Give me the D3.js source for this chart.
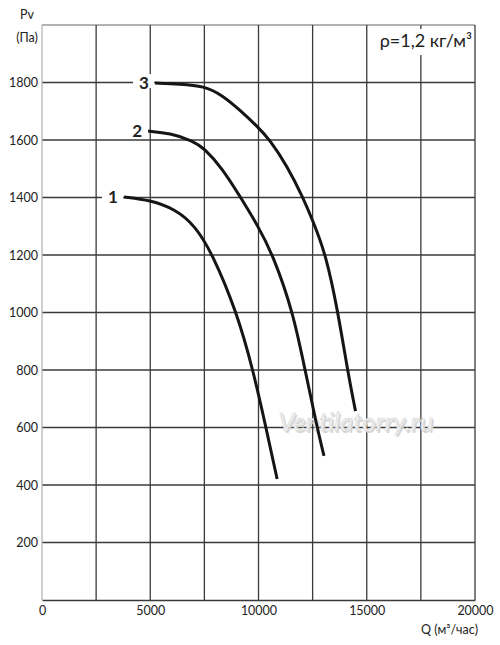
<!DOCTYPE html>
<html><head><meta charset="utf-8">
<script src="https://cdn.jsdelivr.net/npm/d3@7"></script>
<style>body{margin:0;background:#fff}svg{display:block}text{font-family:Lato,"Open Sans",sans-serif;fill:#222}</style>
</head><body>
<svg id="c" width="500" height="645"></svg>
<script>
const xTicks = [0, 5000, 10000, 15000, 20000];
const xGrid = [2500, 5000, 7500, 10000, 12500, 15000, 17500, 20000];
const yTicks = [200, 400, 600, 800, 1000, 1200, 1400, 1600, 1800];
const curveNames = ["1", "2", "3"];
const curve1Q = [3790, 4990, 6140, 7070, 7900, 8990, 9750, 10350, 10860];
const curve1P = [1402, 1391, 1360, 1303, 1200, 1002, 800, 598, 421];
const curve2Q = [4900, 5910, 6975, 7480, 8310, 9145, 9975, 10670, 11595, 12150, 12700, 13025];
const curve2P = [1631, 1624, 1597, 1572, 1503, 1404, 1301, 1200, 1002, 800, 602, 501];
const curve3Q = [5220, 6370, 7480, 8310, 9145, 9975, 10530, 11315, 12055, 12515, 13120, 13670, 14110, 14480];
const curve3P = [1798, 1795, 1788, 1757, 1704, 1645, 1600, 1510, 1400, 1318, 1200, 1002, 800, 657];
const yLabel = ["Pv", "(Па)"];
const xLabel = "Q (м³/час)";
const densityNote = "ρ=1,2 кг/м³";
const watermark = "Ventilatorry.ru";

const svg = d3.select("#c");
const x = d3.scaleLinear().domain([0, 20000]).range([42, 475]);
const y = d3.scaleLinear().domain([0, 2000]).range([600, 25]);

const g = svg.append("g");
g.selectAll(".hg").data(yTicks).join("line")
  .attr("x1", x(0)).attr("x2", x(20000))
  .attr("y1", d => y(d)).attr("y2", d => y(d))
  .attr("stroke", "#3a3a3a").attr("stroke-width", 1.3);
g.append("line").attr("x1", x(0)).attr("x2", x(20000)).attr("y1", y(2000)).attr("y2", y(2000))
  .attr("stroke", "#666").attr("stroke-width", 1.2);
g.selectAll(".vg").data(xGrid).join("line")
  .attr("x1", d => x(d)).attr("x2", d => x(d))
  .attr("y1", y(2000)).attr("y2", y(0))
  .attr("stroke", "#3a3a3a").attr("stroke-width", 1.3);
g.append("line").attr("x1", x(0)).attr("x2", x(0)).attr("y1", y(2000)).attr("y2", y(0))
  .attr("stroke", "#b5b5b5").attr("stroke-width", 1.3);

const yAxis = d3.axisLeft(y).tickValues(yTicks).tickSize(0).tickPadding(4).tickFormat(d3.format("d"));
const ya = svg.append("g").attr("transform", `translate(${x(0)},0)`).call(yAxis);
ya.select(".domain").remove();
ya.selectAll("text").attr("font-size", 12.5).attr("fill", "#222").style("font-family", "Lato,sans-serif");

const xAxis = d3.axisBottom(x).tickValues(xTicks).tickSize(0).tickPadding(6).tickFormat(d3.format("d"));
const xa = svg.append("g").attr("transform", `translate(0,${y(0)})`).call(xAxis);
xa.select(".domain").attr("stroke", "#3a3a3a").attr("stroke-width", 1.3);
xa.selectAll("text").attr("font-size", 12.5).attr("fill", "#222").style("font-family", "Lato,sans-serif");

svg.append("text").attr("x", 27).attr("y", 19).attr("text-anchor", "middle").attr("font-size", 12.5).text(yLabel[0]);
svg.append("text").attr("x", 27).attr("y", 42).attr("text-anchor", "middle").attr("font-size", 12.5).text(yLabel[1]);
svg.append("text").attr("x", 478).attr("y", 634).attr("text-anchor", "end").attr("font-size", 12.5).text(xLabel);

svg.append("text").attr("x", 357.5).attr("y", 432.5).attr("text-anchor", "middle")
  .attr("font-size", 26).attr("font-style", "italic").attr("font-family", "DejaVu Sans, sans-serif")
  .style("fill", "#d6d6d6").text(watermark);
svg.append("text").attr("x", 356).attr("y", 431).attr("text-anchor", "middle")
  .attr("font-size", 26).attr("font-style", "italic").attr("font-family", "DejaVu Sans, sans-serif")
  .style("fill", "#f2f2f2").attr("stroke", "#cfcfcf").attr("stroke-width", 0.5).text(watermark);

svg.append("rect").attr("x", 370).attr("y", 29).attr("width", 104).attr("height", 26).attr("fill", "#fff");
svg.append("text").attr("x", 472).attr("y", 47).attr("text-anchor", "end").attr("font-size", 18).text(densityNote);

const series = [
  {name: curveNames[0], q: curve1Q, p: curve1P},
  {name: curveNames[1], q: curve2Q, p: curve2P},
  {name: curveNames[2], q: curve3Q, p: curve3P}
];
const line = d3.line().x(d => x(d[0])).y(d => y(d[1])).curve(d3.curveBasis);
series.forEach(s => {
  const pts = s.q.map((q, i) => [q, s.p[i]]);
  const sx = x(s.q[0]), sy = y(s.p[0]);
  svg.append("rect").attr("x", sx - 22).attr("y", sy - 9).attr("width", 21).attr("height", 14).attr("fill", "#fff");
  svg.append("text").attr("x", sx - 11).attr("y", sy + 6).attr("text-anchor", "middle")
    .attr("font-size", 17).attr("font-weight", "bold").style("fill", "#222").text(s.name);
  svg.append("path").datum(pts).attr("d", line).attr("fill", "none")
    .attr("stroke", "#151515").attr("stroke-width", 3).attr("stroke-linecap", "butt");
});
</script>
</body></html>
